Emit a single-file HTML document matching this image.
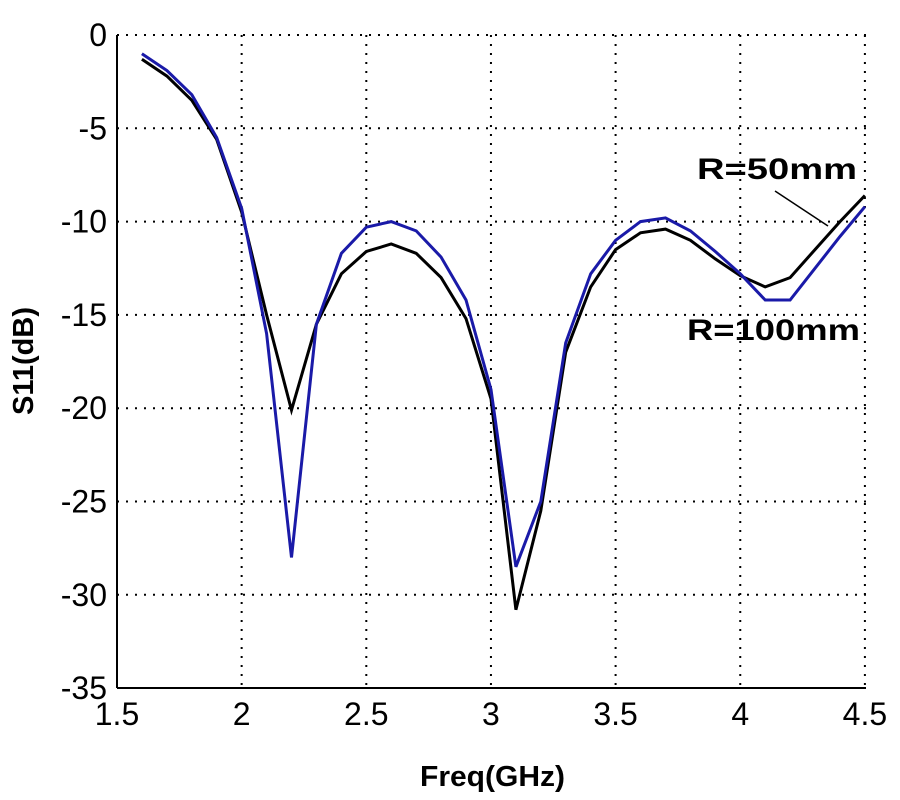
<!DOCTYPE html>
<html><head><style>
body{margin:0;background:#fff;}
svg{display:block;font-family:"Liberation Sans",Arial,sans-serif;}
</style></head><body>
<svg id="s" width="900" height="800" viewBox="0 0 900 800" xmlns="http://www.w3.org/2000/svg">
<g id="grid" stroke="#000" stroke-width="2" stroke-dasharray="2,7" fill="none"></g>
<line x1="117" y1="35" x2="117" y2="688" stroke="#000" stroke-width="2"/>
<line x1="117" y1="688" x2="866" y2="688" stroke="#000" stroke-width="2"/>
<g id="ticks" font-size="32" fill="#000"></g>
<path id="pb" fill="none" stroke="#000" stroke-width="3"/>
<path id="pl" fill="none" stroke="#1a1aa8" stroke-width="3"/>
<text x="697" y="179" font-size="30" font-weight="bold" textLength="160" lengthAdjust="spacingAndGlyphs">R=50mm</text>
<line x1="775" y1="191" x2="828" y2="226" stroke="#000" stroke-width="1.5"/>
<text x="687" y="340" font-size="30" font-weight="bold" textLength="173" lengthAdjust="spacingAndGlyphs">R=100mm</text>
<text x="420" y="786" font-size="29" font-weight="bold" textLength="145" lengthAdjust="spacingAndGlyphs">Freq(GHz)</text>
<text transform="translate(33,361) rotate(-90)" font-size="29" font-weight="bold" text-anchor="middle">S11(dB)</text>
</svg>
<script>
function px(f){return 117+(f-1.5)*249.3;}
function py(d){return 35-d*18.66;}
var g=document.getElementById('grid'),t=document.getElementById('ticks'),NS='http://www.w3.org/2000/svg';
function el(p,n,a,txt){var e=document.createElementNS(NS,n);for(var k in a)e.setAttribute(k,a[k]);if(txt!=null)e.textContent=txt;p.appendChild(e);}
for(var f=2;f<=4.51;f+=0.5){el(g,'line',{x1:px(f),y1:35,x2:px(f),y2:688});}
for(var d=0;d>=-30;d-=5){el(g,'line',{x1:117,y1:py(d),x2:866,y2:py(d)});}
[1.5,2,2.5,3,3.5,4,4.5].forEach(function(f){el(t,'text',{x:px(f),y:725,'text-anchor':'middle'},String(f));});
for(var d=0;d>=-35;d-=5){el(t,'text',{x:107,y:py(d)+11,'text-anchor':'end'},String(d));}
var fs=[];for(var i=0;i<30;i++)fs.push(1.6+i*0.1);
var B=[-1.3,-2.2,-3.5,-5.6,-9.5,-15,-20.1,-15.5,-12.8,-11.6,-11.2,-11.7,-13,-15.2,-19.5,-30.8,-25.5,-17,-13.5,-11.5,-10.6,-10.4,-11,-12,-12.9,-13.5,-13,-11.5,-10,-8.6];
var L=[-1,-1.9,-3.2,-5.5,-9.3,-16,-28,-15.5,-11.7,-10.3,-10,-10.5,-11.9,-14.2,-19,-28.5,-25,-16.5,-12.8,-11,-10,-9.8,-10.5,-11.6,-12.8,-14.2,-14.2,-12.5,-10.8,-9.2];
function path(a){return a.map(function(v,i){return (i?'L':'M')+px(fs[i]).toFixed(1)+' '+py(v).toFixed(1);}).join(' ');}
document.getElementById('pb').setAttribute('d',path(B));
document.getElementById('pl').setAttribute('d',path(L));
</script>
</body></html>
